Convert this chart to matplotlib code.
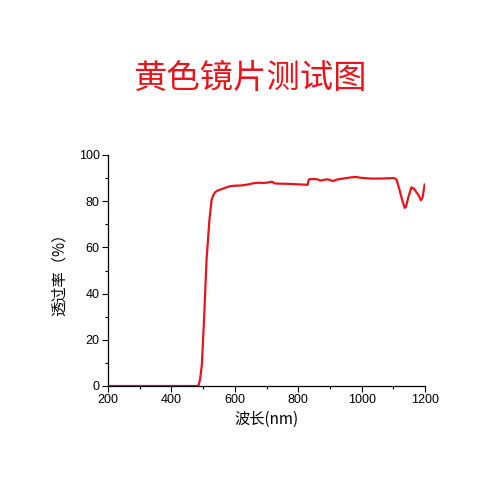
import matplotlib
matplotlib.use("Agg")
import matplotlib.pyplot as plt
from matplotlib.ticker import MultipleLocator

wavelength = [200, 300, 400, 480, 485, 490, 496, 503, 511, 520, 527, 533, 538,
              546, 554, 570, 585, 600, 620, 640, 660, 675, 690, 700, 715, 720,
              725, 740, 770, 800, 830, 832, 835, 850, 860, 870, 880, 890, 900,
              910, 920, 933, 960, 980, 1000, 1030, 1060, 1080, 1102, 1110,
              1118, 1128, 1136, 1140, 1148, 1157, 1165, 1171, 1180, 1187,
              1192, 1199]
transmittance = [0, 0, 0, 0, 0, 2.5, 9.0, 28.8, 55.0, 72, 80.7, 82.8, 83.9,
                 84.6, 85.0, 85.8, 86.5, 86.7, 86.8, 87.2, 87.8, 88.0, 87.9,
                 88.0, 88.4, 88.3, 87.7, 87.6, 87.5, 87.3, 87.1, 88.8, 89.5,
                 89.6, 89.5, 88.9, 89.2, 89.5, 89.2, 88.7, 89.3, 89.6, 90.2,
                 90.5, 90.1, 89.8, 89.8, 89.9, 90.0, 89.4, 85.8, 80.5, 77.1,
                 77.6, 82.0, 86.0, 85.4, 84.3, 82.5, 80.4, 81.5, 87.2]

x_ticks = [200, 400, 600, 800, 1000, 1200]
y_ticks = [0, 20, 40, 60, 80, 100]

fig = plt.figure(figsize=(5, 5), dpi=100)
ax = fig.add_axes([0.216, 0.228, 0.634, 0.462])
ax.plot(wavelength, transmittance, color="#e8141c", linewidth=1.6)
ax.set_xlim(200, 1200)
ax.set_ylim(0, 100)
ax.set_xticks(x_ticks)
ax.set_yticks(y_ticks)
ax.xaxis.set_minor_locator(MultipleLocator(100))
ax.yaxis.set_minor_locator(MultipleLocator(10))
for s in ["top", "right"]:
    ax.spines[s].set_visible(False)
for s in ["left", "bottom"]:
    ax.spines[s].set_linewidth(0.9)
ax.tick_params(which="major", direction="out", length=4, width=0.8,
               labelsize=9, pad=2)
ax.tick_params(which="minor", direction="out", length=2.5, width=0.8)
for lab in ax.get_xticklabels() + ax.get_yticklabels():
    lab.set_fontfamily("Liberation Sans")

cjk = ["Noto Sans CJK SC", "DejaVu Sans"]
ax.set_xlabel("波长(nm)", fontsize=11, family=cjk, labelpad=3)
ax.set_ylabel("透过率（%）", fontsize=11, family=cjk, labelpad=8)
fig.text(0.5, 0.844, "黄色镜片测试图", ha="center", va="center",
         fontsize=24, color="#e8141c", family=cjk)

fig.savefig("out.png", dpi=100, facecolor="white")
